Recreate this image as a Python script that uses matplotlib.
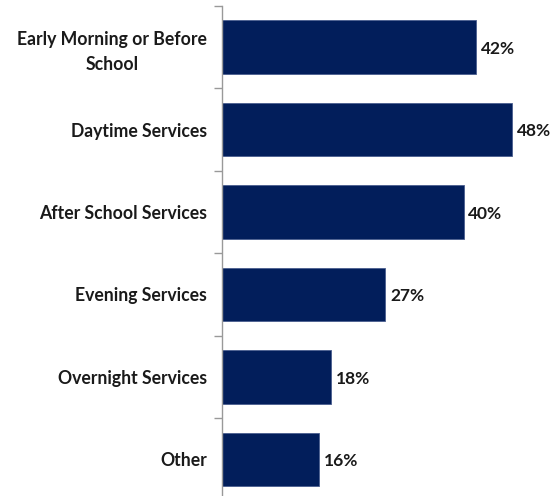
import matplotlib.pyplot as plt
import numpy as np

# data
categories = ["Early Morning or Before\nSchool", "Daytime Services", "After School Services",
              "Evening Services", "Overnight Services", "Other"]
values = [42, 48, 40, 27, 18, 16]

plt.rcParams['font.family'] = ['Lato', 'DejaVu Sans']

fig = plt.figure(figsize=(5.54, 4.96), dpi=100)
ax = fig.add_axes([222 / 554, -4.75 / 496, 332 / 554, 495 / 496])

y = np.arange(len(categories))
bars = ax.barh(y, values, height=0.65, color="#021e5b", edgecolor="#4a5d8f", linewidth=0.6)

ax.set_ylim(len(categories) - 0.5, -0.5)
ax.set_xlim(0, 332 / 6.04)

for yi, v in zip(y, values):
    ax.text(v + 0.8, yi + 0.02, f"{v}%", va="center", ha="left", fontsize=12.5, fontweight="bold", color="#1a1a1a")

ax.set_yticks(y)
ax.set_yticklabels(categories, fontsize=12.7, fontweight="bold", color="#1a1a1a",
                   multialignment="center", linespacing=1.5)
ax.tick_params(axis="y", which="major", length=0, pad=11)
ax.set_yticks(np.arange(-0.5, len(categories), 1), minor=True)
ax.tick_params(axis="y", which="minor", length=6, color="#999999", width=1)
ax.set_xticks([])

for s in ["top", "right", "bottom"]:
    ax.spines[s].set_visible(False)
ax.spines["left"].set_color("#999999")
ax.spines["left"].set_linewidth(1)

fig.savefig("out.png", dpi=100)
